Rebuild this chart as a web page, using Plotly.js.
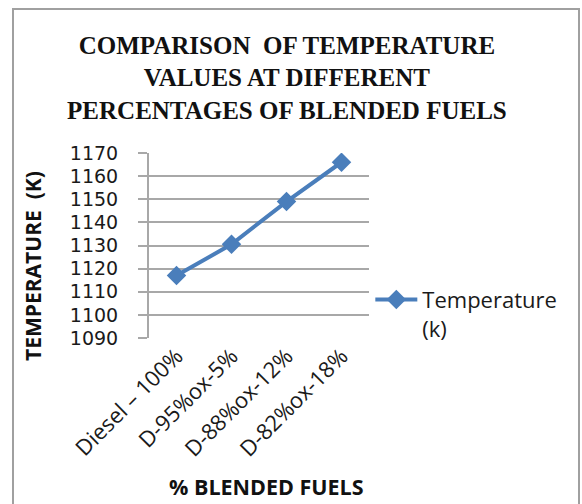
<!DOCTYPE html>
<html>
<head>
<meta charset="utf-8">
<script src="https://cdn.plot.ly/plotly-3.0.1.min.js"></script>
<style>
  html, body { margin: 0; padding: 0; background: #fff; }
  #wrap { position: relative; width: 582px; height: 504px; overflow: hidden; }
  #frame { position: absolute; left: 12px; top: 8px; width: 568px; height: 520px;
           border: 2px solid #a0a0a0; box-sizing: border-box; pointer-events: none; }
  #chart { position: absolute; left: 0; top: 0; width: 582px; height: 504px; }
</style>
</head>
<body>
<div id="wrap">
  <div id="chart"></div>
  <div id="frame"></div>
</div>
<script>
const categories = ["Diesel \u2013 100%", "D-95%ox-5%", "D-88%ox-12%", "D-82%ox-18%"];
const temperature = [1117, 1130.5, 1149, 1166];
const seriesName = "Temperature<br>(k)";
const chartTitle = "COMPARISON  OF TEMPERATURE<br>VALUES AT DIFFERENT<br>PERCENTAGES OF BLENDED FUELS";
const xTitle = "% BLENDED FUELS";
const yTitle = "TEMPERATURE  (K)";

const trace = {
  x: categories,
  y: temperature,
  type: "scatter",
  mode: "lines+markers",
  name: seriesName,
  line: { color: "#4a7ebb", width: 4 },
  marker: { symbol: "diamond", size: 15, color: "#4a7ebb" }
};

const layout = {
  width: 582,
  height: 504,
  paper_bgcolor: "#ffffff",
  plot_bgcolor: "#ffffff",
  margin: { l: 149, r: 213, t: 153, b: 166 },
  title: {
    text: chartTitle,
    font: { family: "Liberation Serif", size: 25, color: "#111111", weight: "bold" },
    x: 0.493, xanchor: "center", xref: "container",
    y: 0.893, yanchor: "top", yref: "container"
  },
  showlegend: true,
  legend: {
    x: 1.006, xanchor: "left", y: 0.32, yanchor: "top",
    font: { family: "Open Sans", size: 22, color: "#1a1a1a" },
    valign: "top",
    itemwidth: 42,
    bgcolor: "rgba(0,0,0,0)"
  },
  xaxis: {
    type: "category",
    tickangle: -45,
    tickfont: { family: "Open Sans", size: 22, color: "#1a1a1a" },
    showgrid: false,
    showline: false,
    ticks: "",
    zeroline: false,
    range: [-0.5, 3.5],
    fixedrange: true
  },
  yaxis: {
    range: [1090, 1170],
    dtick: 10,
    tick0: 1090,
    tickfont: { family: "DejaVu Sans", size: 19, color: "#1a1a1a" },
    showgrid: true,
    gridcolor: "#a8a8a8",
    gridwidth: 2,
    showline: true,
    linecolor: "#a8a8a8",
    linewidth: 2,
    ticks: "outside",
    ticklen: 9,
    tickwidth: 2,
    tickcolor: "#a8a8a8",
    ticklabelstandoff: 16,
    zeroline: false,
    fixedrange: true
  },
  annotations: [
    {
      text: "<b>" + yTitle + "</b>",
      textangle: -90,
      xref: "paper", yref: "paper",
      x: -0.527, xanchor: "center",
      y: 0.39, yanchor: "middle",
      showarrow: false,
      font: { family: "Open Sans", size: 21, color: "#111111" }
    },
    {
      text: "<b>" + xTitle + "</b>",
      xref: "paper", yref: "paper",
      x: 0.536, xanchor: "center",
      y: -0.8, yanchor: "middle",
      showarrow: false,
      font: { family: "Open Sans", size: 21.5, color: "#111111" }
    }
  ]
};

Plotly.newPlot("chart", [trace], layout, { displayModeBar: false, staticPlot: true });
</script>
</body>
</html>
